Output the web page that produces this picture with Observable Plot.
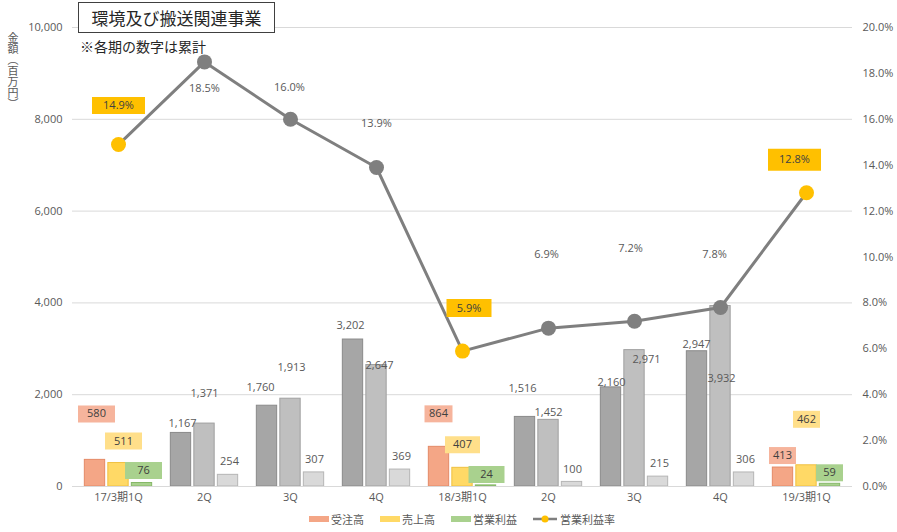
<!DOCTYPE html>
<html><head><meta charset="utf-8">
<script src="https://cdn.jsdelivr.net/npm/d3@7"></script>
<script src="https://cdn.jsdelivr.net/npm/@observablehq/plot@0.6"></script>
<style>
body{margin:0;background:#fff;font-family:"Open Sans","Noto Sans CJK JP",sans-serif;}
#wrap{position:relative;width:897px;height:532px;}
#title{position:absolute;left:78px;top:2px;width:195px;height:29px;border:1.5px solid #404040;background:#fff;font-size:17px;line-height:29px;text-align:center;color:#262626;font-family:"Noto Sans CJK JP",sans-serif;}
#sub{position:absolute;left:80px;top:36px;font-size:14px;color:#262626;font-family:"Noto Sans CJK JP",sans-serif;}
#ytitle{position:absolute;left:5px;top:32px;writing-mode:vertical-rl;font-size:11px;color:#595959;font-family:"Noto Sans CJK JP",sans-serif;letter-spacing:0px;}
#legend{position:absolute;left:72px;top:506px;width:780px;height:26px;display:flex;justify-content:center;align-items:center;font-size:11px;color:#595959;font-family:"Noto Sans CJK JP",sans-serif;}
.item{display:flex;align-items:center;margin:0 8px;}
.sw{width:20px;height:6px;margin-right:2px;}
</style></head>
<body>
<div id="wrap">
<div id="chart"></div>
<div id="title">環境及び搬送関連事業</div>
<div id="sub">※各期の数字は累計</div>
<div id="ytitle">金額（百万円）</div>
<div id="legend"></div>
</div>
<script>
const periods = ["17/3期1Q","2Q","3Q","4Q","18/3期1Q","2Q","3Q","4Q","19/3期1Q"];
const orders  = [580,1167,1760,3202,864,1516,2160,2947,413];   // 受注高
const sales   = [511,1371,1913,2647,407,1452,2971,3932,462];   // 売上高
const profit  = [76,254,307,369,24,100,215,306,59];            // 営業利益
const margin  = [14.9,18.5,16.0,13.9,5.9,6.9,7.2,7.8,12.8];    // 営業利益率 (%)
const leftTicks  = [0,2000,4000,6000,8000,10000];
const rightTicks = [0,2,4,6,8,10,12,14,16,18,20];
const seriesNames = ["受注高","売上高","営業利益","営業利益率"];

// layout / style settings
const W = 897, H = 506, ML = 72, MR = 45, MT = 27, MB = 20;
const bw = (W - ML - MR) / periods.length;
const barW = 21, barOff = [-23.5, 0, 23.5];
const pctScale = 10000 / 20; // right axis: 20% <-> 10,000
const isFirstQ = i => i === 0 || i === 4 || i === 8;
const colored = [
  {fill:"#F4A686", stroke:"#E48A66", box:"#F6B49C"},
  {fill:"#FFD966", stroke:"#F0C040", box:"#FFDF8A"},
  {fill:"#A9D18E", stroke:"#86B868", box:"#A9D18E"}
];
const grays = [
  {fill:"#A6A6A6", stroke:"#8A8A8A"},
  {fill:"#BFBFBF", stroke:"#A0A0A0"},
  {fill:"#D9D9D9", stroke:"#B5B5B5"}
];
const labelOffsets = [
  [[-22,-46],[-22,-9],[-30,-18],[-26,-14],[-24,-33],[-26,-28],[-23,-5],[-24,-7],[-24,-12]],
  [[5,-22],[0,-30],[1,-31],[3,0],[0,-23],[0,-7],[12,9],[1,72],[0,-46]],
  [[25,-12.5],[25,-13],[24,-13],[25,-13],[24,-11],[24,-12],[25,-13],[25,-13],[23,-11]]
];
const boxWidths = [[37,37,37],[28,35,36],[27,27,27]]; // per series for groups 0,4,8
const pctOffsets = [[0,-39],[0,27],[-1,-32],[0,-44],[6.5,-43],[-2,-74],[-4,-73],[-6,-53],[-12,-33]];
const pctBox = {0:[53,17],4:[45,18],8:[53,22]};

const seriesVals = [orders, sales, profit];
const rows = [];
seriesVals.forEach((arr, s) => arr.forEach((v, i) => rows.push({i, s, v})));
const mrows = margin.map((m, i) => ({i, m}));

const boxSym = (w, h) => ({draw(ctx){ ctx.rect(-w/2, -h/2, w, h); }});
const fmt = d3.format(",");

const marks = [
  Plot.gridY(leftTicks, {stroke:"#D9D9D9", strokeOpacity:1, strokeWidth:1}),
  Plot.axisY(leftTicks, {anchor:"left", tickSize:0, tickPadding:10, tickFormat:fmt, label:null, fill:"#595959", fontSize:11}),
  Plot.axisY(rightTicks.map(p => p * pctScale), {anchor:"right", tickSize:0, tickPadding:10, tickFormat:v => (v/pctScale).toFixed(1)+"%", label:null, fill:"#595959", fontSize:11}),
  Plot.axisX({tickSize:0, tickPadding:7, tickFormat:i => periods[i], label:null, fill:"#595959", fontSize:11})
];
[0,1,2].forEach(s => {
  marks.push(Plot.barY(rows.filter(r => r.s === s), {
    x:"i", y:"v",
    insetLeft: bw/2 + barOff[s] - barW/2,
    insetRight: bw/2 - barOff[s] - barW/2,
    fill: r => isFirstQ(r.i) ? colored[s].fill : grays[s].fill,
    stroke: r => isFirstQ(r.i) ? colored[s].stroke : grays[s].stroke,
    strokeWidth: 1
  }));
});
marks.push(Plot.ruleY([0], {stroke:"#D9D9D9"}));
// value label boxes (1Q groups)
[0,1,2].forEach(s => {
  [0,4,8].forEach((i, k) => {
    const r = rows.find(d => d.s === s && d.i === i);
    marks.push(Plot.dot([r], {x:"i", y:"v", dx: labelOffsets[s][i][0], dy: labelOffsets[s][i][1],
      symbol: boxSym(boxWidths[k][s], 17), r: 5, fill: colored[s].box, stroke:"none"}));
  });
});
[0,1,2].forEach(s => {
  rows.filter(r => r.s === s).forEach(r => {
    marks.push(Plot.text([r], {x:"i", y:"v", text: d => fmt(d.v), dx: labelOffsets[s][r.i][0], dy: labelOffsets[s][r.i][1],
      fill: isFirstQ(r.i) ? "#404040" : "#595959", fontSize:11}));
  });
});
// margin line
marks.push(Plot.line(mrows, {x:"i", y: d => d.m * pctScale, stroke:"#7F7F7F", strokeWidth:3}));
marks.push(Plot.dot(mrows, {x:"i", y: d => d.m * pctScale, r: 7.5, fill: d => isFirstQ(d.i) ? "#FFC000" : "#7F7F7F", stroke:"none"}));
mrows.forEach(d => {
  if (pctBox[d.i]) {
    marks.push(Plot.dot([d], {x:"i", y: e => e.m * pctScale, dx: pctOffsets[d.i][0], dy: pctOffsets[d.i][1],
      symbol: boxSym(pctBox[d.i][0], pctBox[d.i][1]), r:5, fill:"#FFC000", stroke:"none"}));
  }
  marks.push(Plot.text([d], {x:"i", y: e => e.m * pctScale, text: e => e.m.toFixed(1)+"%", dx: pctOffsets[d.i][0], dy: pctOffsets[d.i][1],
    fill: pctBox[d.i] ? "#404040" : "#595959", fontSize:11}));
});

const chart = Plot.plot({
  width: W, height: H,
  marginLeft: ML, marginRight: MR, marginTop: MT, marginBottom: MB,
  style: {fontFamily: '"Open Sans","Noto Sans CJK JP",sans-serif', fontSize: "11px", color:"#595959", background:"#fff"},
  x: {type:"band", domain: d3.range(periods.length), padding: 0, axis: null},
  y: {domain:[0,10000], axis: null},
  marks
});
document.getElementById("chart").appendChild(chart);

// legend
const leg = document.getElementById("legend");
const legendColors = [colored[0].fill, colored[1].fill, colored[2].fill];
seriesNames.forEach((name, k) => {
  const it = document.createElement("div");
  it.className = "item";
  if (k < 3) {
    it.innerHTML = `<div class="sw" style="background:${legendColors[k]}"></div><span>${name}</span>`;
  } else {
    it.innerHTML = `<svg width="24" height="10" style="margin-right:3px"><line x1="0" y1="5" x2="24" y2="5" stroke="#7F7F7F" stroke-width="2.5"/><circle cx="12" cy="5" r="3.5" fill="#FFC000"/></svg><span>${name}</span>`;
  }
  leg.appendChild(it);
});
</script>
</body></html>
